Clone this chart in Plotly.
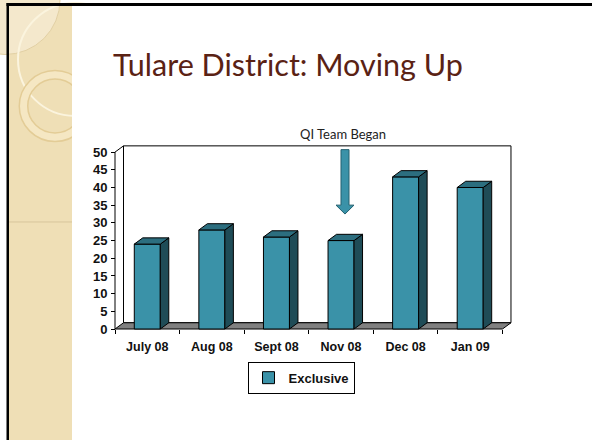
import math
import plotly.graph_objects as go

# ---------------- data ----------------
categories = ["July 08", "Aug 08", "Sept 08", "Nov 08", "Dec 08", "Jan 09"]
exclusive = [24, 28, 26, 25, 43, 40]
y_ticks = [0, 5, 10, 15, 20, 25, 30, 35, 40, 45, 50]
series_name = "Exclusive"
title_text = "Tulare District: Moving Up"
note_text = "QI Team Began"

# ---------------- geometry / style ----------------
W, H = 592, 444
def PX(x): return x / W
def PY(y): return 1 - y / H

X0PX, UX = 115.0, 64.58      # pixel of x=-0.5 and px per category
Y0PX, UY = 332.0, 3.57       # pixel of y=0 and px per unit
DX, DY = 8.5 / UX, 6.3 / UY  # 3-D depth offset in data units
BW = 26 / UX                 # bar width

xr = [-0.58, 5.5 + DX + 0.06]
yr = [-0.9, 50 + DY + 0.6]
xdom = [PX(X0PX + (xr[0] + 0.5) * UX), PX(X0PX + (xr[1] + 0.5) * UX)]
ydom = [PY(Y0PX - yr[0] * UY), PY(Y0PX - yr[1] * UY)]

FRONT = "#3a92a8"
TOP = "#2c6e7f"
SIDE = "#1f4c57"
FLOOR = "#808080"
NARROW = "Liberation Sans Narrow, Arial Narrow, Liberation Sans, Arial"

fig = go.Figure()

def poly(xs, ys, fill, line="black", lw=1):
    fig.add_trace(go.Scatter(x=xs + [xs[0]], y=ys + [ys[0]], mode="lines",
                             fill="toself", fillcolor=fill,
                             line=dict(color=line, width=lw),
                             hoverinfo="skip", showlegend=False))

def dpath(pts):
    return "M " + " L ".join(f"{a},{b}" for a, b in pts) + " Z"

n = len(categories)
xl, xh = -0.5, n - 0.5

# bars: front faces
xs = list(range(n))
fig.add_trace(go.Bar(x=xs, y=exclusive, width=BW, name=series_name,
                     marker=dict(color=FRONT, line=dict(color="black", width=1)),
                     showlegend=True))
# bars: side & top faces
for i, v in zip(xs, exclusive):
    r = i + BW / 2
    l = i - BW / 2
    poly([r, r + DX, r + DX, r], [0, DY, v + DY, v], SIDE)
    poly([l, r, r + DX, l + DX], [v, v, v + DY, v + DY], TOP)

# ---------------- decorations ----------------
shapes = []
shapes.append(dict(type="rect", xref="paper", yref="paper", x0=PX(8), x1=PX(72),
                   y0=PY(444), y1=PY(4), fillcolor="#efdfb6", line_width=0, layer="below"))
shapes.append(dict(type="circle", xref="paper", yref="paper",
                   x0=PX(5 - 55), x1=PX(5 + 55), y0=PY(0 + 55), y1=PY(0 - 55),
                   fillcolor="#f4e8cc", line=dict(color="#e2d0a4", width=1), layer="below"))
shapes.append(dict(type="circle", xref="paper", yref="paper",
                   x0=PX(75 - 57), x1=PX(75 + 57), y0=PY(60 + 57), y1=PY(60 - 57),
                   fillcolor="rgba(0,0,0,0)", line=dict(color="#fbf4de", width=2), layer="below"))
shapes.append(dict(type="circle", xref="paper", yref="paper",
                   x0=PX(55 - 31.5), x1=PX(55 + 31.5), y0=PY(107 + 31.5), y1=PY(107 - 31.5),
                   fillcolor="rgba(0,0,0,0)", line=dict(color="#e3cc96", width=10), layer="below"))
shapes.append(dict(type="circle", xref="paper", yref="paper",
                   x0=PX(55 - 31.5), x1=PX(55 + 31.5), y0=PY(107 + 31.5), y1=PY(107 - 31.5),
                   fillcolor="rgba(0,0,0,0)", line=dict(color="#f5e7c3", width=7), layer="below"))
shapes.append(dict(type="line", xref="paper", yref="paper", x0=PX(9), x1=PX(72),
                   y0=PY(224), y1=PY(224), line=dict(color="#d8c59c", width=1), layer="below"))
shapes.append(dict(type="rect", xref="paper", yref="paper", x0=PX(72), x1=1,
                   y0=0, y1=PY(6), fillcolor="white", line_width=0, layer="below"))
# chart back wall, floor and front value-axis line (data coordinates)
shapes.append(dict(type="path", xref="x", yref="y", layer="below",
                   path=dpath([(xl + DX, DY), (xh + DX, DY), (xh + DX, 50 + DY), (xl + DX, 50 + DY)]),
                   fillcolor="white", line=dict(color="black", width=1)))
shapes.append(dict(type="path", xref="x", yref="y", layer="below",
                   path=dpath([(xl, 0), (xh, 0), (xh + DX, DY), (xl + DX, DY)]),
                   fillcolor=FLOOR, line=dict(color="black", width=1)))
shapes.append(dict(type="path", xref="x", yref="y", layer="below",
                   path=f"M {xl},0 L {xl},50 L {xl + DX},{50 + DY}",
                   line=dict(color="black", width=1)))
# slide border (top + left) as filled bands
shapes.append(dict(type="rect", xref="paper", yref="paper", x0=PX(6.5), x1=1,
                   y0=PY(6), y1=PY(3), fillcolor="black", line_width=0, layer="above"))
shapes.append(dict(type="rect", xref="paper", yref="paper", x0=PX(6.5), x1=PX(9),
                   y0=0, y1=PY(3), fillcolor="black", line_width=0, layer="above"))
# block arrow
ap = [(341, 151), (349, 151), (349, 207), (354, 207), (345, 216), (336, 207), (341, 207)]
path = "M " + " L ".join(f"{PX(a):.5f},{PY(b):.5f}" for a, b in ap) + " Z"
shapes.append(dict(type="path", xref="paper", yref="paper", path=path,
                   fillcolor=FRONT, line=dict(color="#24606f", width=1)))

annotations = [
    dict(text=title_text, xref="paper", yref="paper", x=PX(111), y=PY(65),
         xanchor="left", yanchor="middle", showarrow=False,
         font=dict(family="Lato, Open Sans, sans-serif", size=30.5, color="#5a2214")),
    dict(text=note_text, xref="paper", yref="paper", x=PX(343), y=PY(135),
         xanchor="center", yanchor="middle", showarrow=False,
         font=dict(family="Lato, Open Sans, sans-serif", size=13, color="#222222")),
]

fig.update_layout(
    width=W, height=H, margin=dict(l=0, r=0, t=0, b=0),
    paper_bgcolor="white", plot_bgcolor="rgba(0,0,0,0)",
    shapes=shapes, annotations=annotations,
    bargap=0, hovermode=False,
    xaxis=dict(domain=xdom, range=xr, anchor="free", position=PY(Y0PX),
               showgrid=False, zeroline=False, showline=False,
               tickmode="array", tickvals=xs, ticktext=categories,
               ticks="", ticklabelstandoff=8,
               tickfont=dict(family=NARROW, size=12.5, color="#111111", weight="bold"),
               minor=dict(tickmode="array", tickvals=[k - 0.5 for k in range(n + 1)],
                          ticks="outside", ticklen=4, tickcolor="black", tickwidth=1,
                          showgrid=False)),
    yaxis=dict(domain=ydom, range=yr, anchor="free", position=PX(X0PX),
               showgrid=False, zeroline=False, showline=False,
               tickmode="array", tickvals=y_ticks, ticks="outside", ticklen=4,
               tickcolor="black", ticklabelstandoff=1,
               tickfont=dict(family=NARROW, size=13, color="#111111", weight="bold")),
    legend=dict(x=PX(301), y=PY(365), xanchor="center", yanchor="top",
                bordercolor="black", borderwidth=1, bgcolor="white",
                itemwidth=30, orientation="h",
                font=dict(family=NARROW, size=13, color="#111111", weight="bold")),
)

fig.write_html(
    "out.html",
    config={"displayModeBar": False, "staticPlot": True},
    post_script=("document.body.style.margin='0px';"
                 "document.documentElement.style.overflow='hidden';"
                 "document.body.style.overflow='hidden';"
                 "var d=document.getElementById('{plot_id}');"
                 "d.style.position='fixed';d.style.top='0px';d.style.left='0px';"
                 "window.scrollTo(0,0);"),
)
